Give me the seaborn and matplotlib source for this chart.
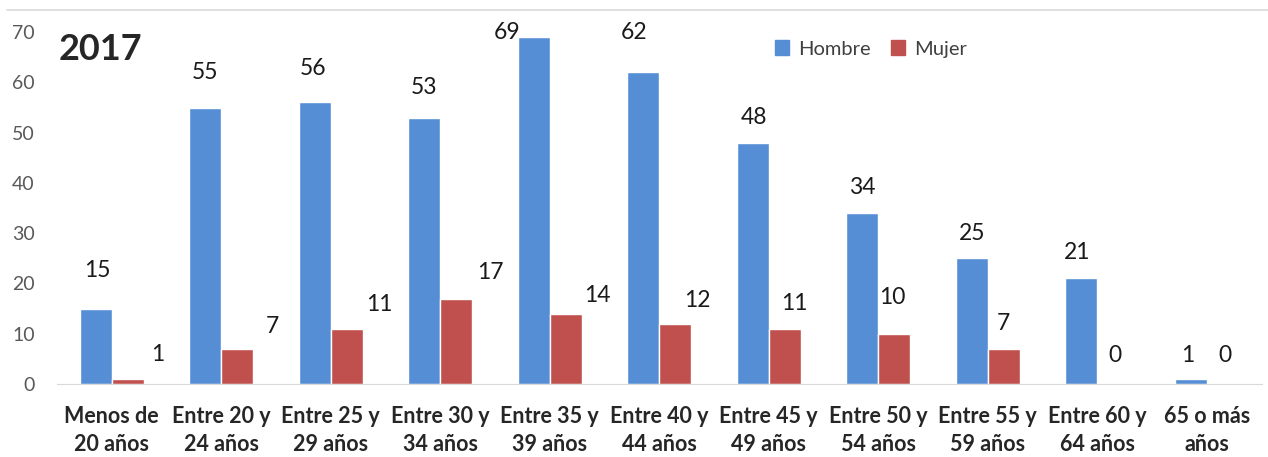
import pandas as pd
import matplotlib.pyplot as plt
import seaborn as sns
from matplotlib.patches import Patch
from matplotlib.lines import Line2D

# datos
grupos = ['Menos de\n20 años', 'Entre 20 y\n24 años', 'Entre 25 y\n29 años',
          'Entre 30 y\n34 años', 'Entre 35 y\n39 años', 'Entre 40 y\n44 años',
          'Entre 45 y\n49 años', 'Entre 50 y\n54 años', 'Entre 55 y\n59 años',
          'Entre 60 y\n64 años', '65 o más\naños']
hombre = [15, 55, 56, 53, 69, 62, 48, 34, 25, 21, 1]
mujer = [1, 7, 11, 17, 14, 12, 11, 10, 7, 0, 0]
series = ['Hombre', 'Mujer']

# desplazamiento de etiquetas (pixeles) como en el original
off_hombre = [(1, 38), (0, 35), (-2, 34), (0, 30), (-27, 5), (-9, 40),
              (1, 25), (0, 26), (0, 25), (-4, 26), (-3, 23)]
off_mujer = [(30, 24), (35, 22), (33, 24), (34, 26), (32, 18), (22, 23),
             (10, 25), (-2, 36), (0, 25), (2, 28), (2, 28)]

colores = {'Hombre': '#558ED5', 'Mujer': '#C0504D'}

df = pd.DataFrame({
    'grupo': grupos * 2,
    'valor': hombre + mujer,
    'sexo': ['Hombre'] * len(grupos) + ['Mujer'] * len(grupos),
})

sns.set_style('white')
plt.rcParams['font.family'] = ['Lato', 'DejaVu Sans']

fig = plt.figure(figsize=(12.68, 4.57), dpi=100)
ax = fig.add_axes([57 / 1268, 1 - 384 / 457, 1204.5 / 1268, 374 / 457])

sns.barplot(data=df, x='grupo', y='valor', hue='sexo', hue_order=series,
            palette=colores, width=0.58, gap=0, saturation=1, ax=ax,
            legend=False, errorbar=None)

ax.set_ylim(0, 74.4)
ax.set_xlim(-0.5, 10.5)
ax.set_yticks(range(0, 71, 10))
ax.set_xlabel('')
ax.set_ylabel('')
for s in ['left', 'right', 'top']:
    ax.spines[s].set_visible(False)
ax.spines['bottom'].set_color('#d9d9d9')
ax.tick_params(axis='y', length=0, pad=16, labelsize=14, labelcolor='#595959')
ax.tick_params(axis='x', length=0, pad=16, labelsize=15.5)
for lab in ax.get_xticklabels():
    lab.set_fontweight('bold')
    lab.set_linespacing(1.4)

# etiquetas de valor
for cont, vals, offs in zip(ax.containers, [hombre, mujer], [off_hombre, off_mujer]):
    for bar, v, (dx, dy) in zip(cont, vals, offs):
        ax.annotate(str(v), (bar.get_x() + bar.get_width() / 2, bar.get_height()),
                    xytext=(dx, dy), textcoords='offset pixels',
                    ha='center', va='center', fontsize=16.5, color='#1a1a1a')

fig.text(59 / 1268, 1 - 50 / 457, '2017', fontsize=26, fontweight='bold',
         va='center', ha='left')

handles = [Patch(color=colores[s]) for s in series]
fig.legend(handles, series, loc='center left', bbox_to_anchor=(765 / 1268, 1 - 49 / 457),
           ncol=2, frameon=False, fontsize=14.5, handlelength=0.7, handleheight=0.7,
           handletextpad=0.45, columnspacing=1.0, borderpad=0, labelcolor='#404040')

fig.add_artist(Line2D([7 / 1268, 1], [1 - 10 / 457] * 2, color='#d9d9d9', lw=1.2))

fig.savefig('out.png', dpi=100)
